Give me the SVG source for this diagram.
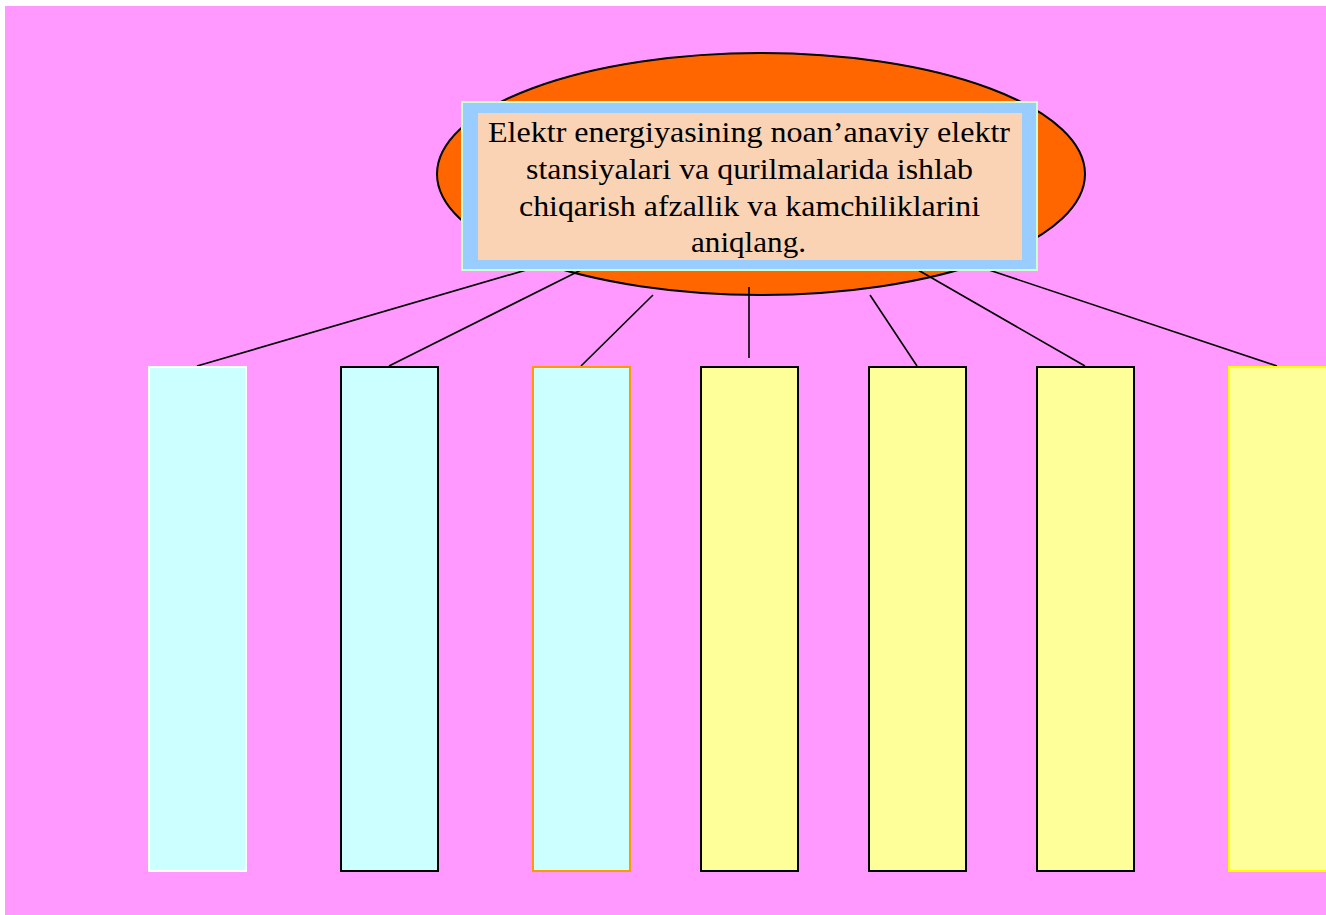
<svg xmlns="http://www.w3.org/2000/svg" width="1326" height="915" viewBox="0 0 1326 915">
<style>
.conn line{stroke:#000;stroke-width:1.6;}
.cyan{fill:#CCFFFF;stroke-width:2;}
.yel{fill:#FFFF99;stroke-width:2;}
.t{font-family:"Liberation Serif","Times New Roman",serif;font-size:30px;fill:#000;text-anchor:middle;}
</style>
<rect x="0" y="0" width="1326" height="915" fill="#FFFFFF"/>
<rect x="5" y="6" width="1321" height="909" fill="#FF99FF"/>
<g id="ellipse">
<ellipse cx="761" cy="174" rx="324" ry="121" fill="#FF6600" stroke="#000" stroke-width="2"/>
</g>
<g class="conn" id="connectors">
<line x1="533" y1="268" x2="197" y2="366"/>
<line x1="581" y1="270" x2="389" y2="366"/>
<line x1="653" y1="295" x2="581" y2="366"/>
<line x1="749" y1="287" x2="749" y2="358"/>
<line x1="870" y1="295" x2="917" y2="366"/>
<line x1="918" y1="270" x2="1085" y2="366"/>
<line x1="989" y1="270" x2="1277" y2="366"/>
</g>
<g id="title">
<rect x="462" y="102" width="575" height="168" fill="#99CCFF" stroke="#CCFFCC" stroke-width="2"/>
<rect x="478" y="113" width="544" height="147" fill="#FAD3B5"/>
<text class="t" x="749" y="142" textLength="522" lengthAdjust="spacingAndGlyphs">Elektr energiyasining noan’anaviy elektr</text>
<text class="t" x="749.5" y="179" textLength="447" lengthAdjust="spacingAndGlyphs">stansiyalari va qurilmalarida ishlab</text>
<text class="t" x="749.5" y="216" textLength="461" lengthAdjust="spacingAndGlyphs">chiqarish afzallik va kamchiliklarini</text>
<text class="t" x="748.5" y="252" textLength="115" lengthAdjust="spacingAndGlyphs">aniqlang.</text>
</g>
<g id="box1"><rect class="cyan" x="149" y="367" width="97" height="504" stroke="#FFFFFF"/></g>
<g id="box2"><rect class="cyan" x="341" y="367" width="97" height="504" stroke="#000"/></g>
<g id="box3"><rect class="cyan" x="533" y="367" width="97" height="504" stroke="#FF9900"/></g>
<g id="box4"><rect class="yel" x="701" y="367" width="97" height="504" stroke="#000"/></g>
<g id="box5"><rect class="yel" x="869" y="367" width="97" height="504" stroke="#000"/></g>
<g id="box6"><rect class="yel" x="1037" y="367" width="97" height="504" stroke="#000"/></g>
<g id="box7"><rect class="yel" x="1229" y="367" width="110" height="504" stroke="#FFFF00"/></g>
</svg>
